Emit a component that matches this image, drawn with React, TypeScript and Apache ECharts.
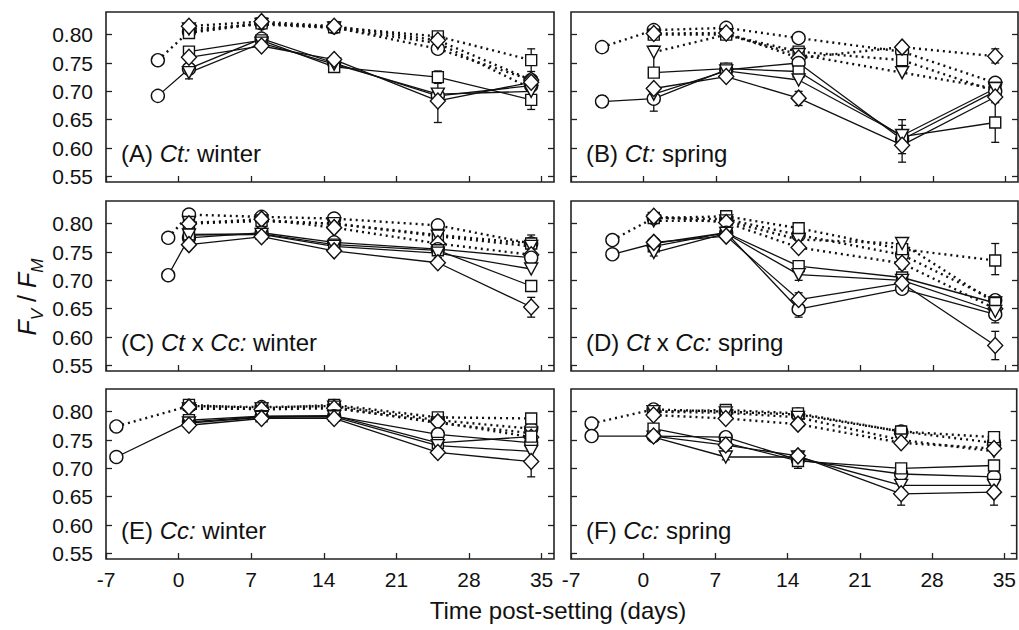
import React, { useEffect, useRef } from "react";
import * as echarts from "echarts";

// ---------- data ----------
const DAYS = [1, 8, 15, 25, 34];
const X_TICKS = [-7, 0, 7, 14, 21, 28, 35];
const Y_TICKS = [0.55, 0.6, 0.65, 0.7, 0.75, 0.8];
const MARKERS = ["circle", "rect", "triangle", "diamond"]; // circle, square, down-triangle, diamond
const X_TITLE = "Time post-setting (days)";

// pre-setting point: [day, solid value, dotted value]
const A_PRE = [-2, 0.692, 0.755];
const A_SOLID = [
  [0.74, 0.793, 0.75, 0.692, 0.71],
  [0.77, 0.79, 0.743, 0.725, 0.685],
  [0.733, 0.785, 0.748, 0.695, 0.7],
  [0.76, 0.78, 0.756, 0.683, 0.716],
];
const A_DOTTED = [
  [0.805, 0.82, 0.813, 0.775, 0.72],
  [0.803, 0.82, 0.813, 0.797, 0.755],
  [0.81, 0.818, 0.812, 0.785, 0.705],
  [0.815, 0.823, 0.815, 0.79, 0.72],
];
const A_ERR = [[1, 0.722, 0.745], [15, 0.74, 0.762], [25, 0.645, 0.715], [25, 0.714, 0.736], [34, 0.735, 0.775], [34, 0.668, 0.702]];

const B_PRE = [-4, 0.682, 0.778];
const B_SOLID = [
  [0.687, 0.738, 0.75, 0.615, 0.7],
  [0.733, 0.74, 0.735, 0.62, 0.645],
  [0.695, 0.736, 0.72, 0.622, 0.705],
  [0.705, 0.726, 0.688, 0.605, 0.69],
];
const B_DOTTED = [
  [0.808, 0.812, 0.794, 0.77, 0.715],
  [0.8, 0.8, 0.77, 0.755, 0.7],
  [0.769, 0.8, 0.765, 0.733, 0.705],
  [0.802, 0.803, 0.759, 0.778, 0.762],
];
const B_ERR = [[-4, 0.672, 0.692], [1, 0.665, 0.705], [1, 0.74, 0.78], [15, 0.675, 0.7], [25, 0.575, 0.64], [25, 0.59, 0.65], [34, 0.61, 0.68], [34, 0.75, 0.775]];

const C_PRE = [-1, 0.709, 0.775];
const C_SOLID = [
  [0.775, 0.784, 0.767, 0.755, 0.74],
  [0.781, 0.782, 0.763, 0.753, 0.69],
  [0.78, 0.781, 0.76, 0.748, 0.72],
  [0.763, 0.777, 0.752, 0.731, 0.653],
];
const C_DOTTED = [
  [0.816, 0.812, 0.809, 0.797, 0.765],
  [0.8, 0.805, 0.8, 0.78, 0.765],
  [0.802, 0.805, 0.8, 0.778, 0.76],
  [0.8, 0.808, 0.793, 0.765, 0.745],
];
const C_ERR = [[25, 0.725, 0.74], [34, 0.635, 0.67], [34, 0.755, 0.78]];

const D_PRE = [-3, 0.746, 0.771];
const D_SOLID = [
  [0.765, 0.784, 0.649, 0.685, 0.64],
  [0.76, 0.784, 0.725, 0.705, 0.66],
  [0.749, 0.783, 0.71, 0.7, 0.645],
  [0.767, 0.778, 0.666, 0.695, 0.585],
];
const D_DOTTED = [
  [0.81, 0.808, 0.78, 0.745, 0.665],
  [0.81, 0.813, 0.792, 0.755, 0.735],
  [0.805, 0.805, 0.772, 0.765, 0.66],
  [0.813, 0.802, 0.758, 0.73, 0.65],
];
const D_ERR = [[1, 0.743, 0.758], [15, 0.635, 0.678], [15, 0.7, 0.72], [25, 0.68, 0.72], [34, 0.56, 0.61], [34, 0.71, 0.765], [34, 0.625, 0.66]];

const E_PRE = [-6, 0.72, 0.774];
const E_SOLID = [
  [0.782, 0.791, 0.792, 0.76, 0.745],
  [0.785, 0.792, 0.793, 0.745, 0.756],
  [0.78, 0.79, 0.791, 0.74, 0.73],
  [0.776, 0.788, 0.788, 0.728, 0.712],
];
const E_DOTTED = [
  [0.81, 0.808, 0.81, 0.785, 0.77],
  [0.812, 0.806, 0.812, 0.79, 0.788],
  [0.805, 0.805, 0.808, 0.78, 0.762],
  [0.808, 0.804, 0.806, 0.782, 0.755],
];
const E_ERR = [[1, 0.77, 0.79], [25, 0.72, 0.74], [34, 0.685, 0.74]];

const F_PRE = [-5, 0.757, 0.779];
const F_SOLID = [
  [0.757, 0.755, 0.715, 0.69, 0.685],
  [0.77, 0.745, 0.713, 0.7, 0.705],
  [0.755, 0.72, 0.72, 0.67, 0.67],
  [0.757, 0.741, 0.722, 0.655, 0.658],
];
const F_DOTTED = [
  [0.804, 0.8, 0.795, 0.765, 0.745],
  [0.8, 0.803, 0.797, 0.765, 0.755],
  [0.8, 0.798, 0.79, 0.75, 0.73],
  [0.794, 0.788, 0.778, 0.745, 0.735],
];
const F_ERR = [[8, 0.715, 0.73], [15, 0.7, 0.73], [25, 0.635, 0.675], [25, 0.745, 0.77], [34, 0.635, 0.68]];

// panel label pieces: [text, italic?]
const LABELS: [string, boolean][][] = [
  [["(A) ", false], ["Ct:", true], [" winter", false]],
  [["(B) ", false], ["Ct:", true], [" spring", false]],
  [["(C) ", false], ["Ct", true], [" x ", false], ["Cc:", true], [" winter", false]],
  [["(D) ", false], ["Ct", true], [" x ", false], ["Cc:", true], [" spring", false]],
  [["(E) ", false], ["Cc:", true], [" winter", false]],
  [["(F) ", false], ["Cc:", true], [" spring", false]],
];

const PANELS = [
  { pre: A_PRE, solid: A_SOLID, dotted: A_DOTTED, err: A_ERR },
  { pre: B_PRE, solid: B_SOLID, dotted: B_DOTTED, err: B_ERR },
  { pre: C_PRE, solid: C_SOLID, dotted: C_DOTTED, err: C_ERR },
  { pre: D_PRE, solid: D_SOLID, dotted: D_DOTTED, err: D_ERR },
  { pre: E_PRE, solid: E_SOLID, dotted: E_DOTTED, err: E_ERR },
  { pre: F_PRE, solid: F_SOLID, dotted: F_DOTTED, err: F_ERR },
];

// ---------- layout ----------
const FONT = "Liberation Sans, Arial, sans-serif";
const COL_LEFT = [106, 571];
const COL_WIDTH = [448, 447];
const ROW_TOP = [12, 201, 389];
const ROW_H = 170;
const Y_MIN = 0.54;
const Y_MAX = 0.84;
const X_MIN = -7;
const X_MAX = 36.2;

const SYMBOL_SIZE: Record<string, number | number[]> = {
  circle: 13,
  rect: 11,
  triangle: [13, 12],
  diamond: [15, 16],
};

function buildOption() {
  const grid: any[] = [];
  const xAxis: any[] = [];
  const yAxis: any[] = [];
  const series: any[] = [];
  const graphic: any[] = [];

  PANELS.forEach((panel, p) => {
    const col = p % 2;
    const row = Math.floor(p / 2);
    grid.push({
      left: COL_LEFT[col],
      top: ROW_TOP[row],
      width: COL_WIDTH[col],
      height: ROW_H,
      show: true,
      borderColor: "#222",
      borderWidth: 1.6,
      backgroundColor: "transparent",
    });
    xAxis.push({
      gridIndex: p,
      type: "value",
      position: "bottom",
      min: X_MIN,
      max: X_MAX,
      axisLine: { show: false, onZero: false },
      splitLine: { show: false },
      axisTick: {
        show: true,
        inside: true,
        length: 6,
        customValues: X_TICKS,
        lineStyle: { color: "#222", width: 1.3 },
      },
      axisLabel: {
        show: row === 2,
        customValues: X_TICKS,
        color: "#111",
        fontSize: 21,
        fontFamily: FONT,
        margin: 10,
      },
    });
    const yBase = {
      gridIndex: p,
      type: "value",
      min: Y_MIN,
      max: Y_MAX,
      axisLine: { show: false, onZero: false },
      splitLine: { show: false },
      axisTick: {
        show: true,
        inside: true,
        length: 6,
        customValues: Y_TICKS,
        lineStyle: { color: "#222", width: 1.3 },
      },
    };
    yAxis.push({
      ...yBase,
      position: "left",
      axisLabel: {
        show: col === 0,
        customValues: Y_TICKS,
        formatter: (v: number) => v.toFixed(2),
        color: "#111",
        fontSize: 21,
        fontFamily: FONT,
        margin: 13,
      },
    });
    yAxis.push({ ...yBase, position: "right", axisLabel: { show: false } });

    // error bars
    series.push({
      type: "custom",
      xAxisIndex: p,
      yAxisIndex: p * 2,
      z: 1,
      data: panel.err,
      encode: { x: 0, y: [1, 2] },
      renderItem: (params: any, api: any) => {
        const x = api.value(0);
        const lo = api.coord([x, api.value(1)]);
        const hi = api.coord([x, api.value(2)]);
        const w = 4;
        const st = { stroke: "#111", lineWidth: 1.3 };
        return {
          type: "group",
          children: [
            { type: "line", shape: { x1: lo[0], y1: lo[1], x2: hi[0], y2: hi[1] }, style: st },
            { type: "line", shape: { x1: lo[0] - w, y1: lo[1], x2: lo[0] + w, y2: lo[1] }, style: st },
            { type: "line", shape: { x1: hi[0] - w, y1: hi[1], x2: hi[0] + w, y2: hi[1] }, style: st },
          ],
        };
      },
    });

    const addSeries = (vals: number[][], dotted: boolean) => {
      vals.forEach((v, k) => {
        const sym = MARKERS[k];
        const data: number[][] = DAYS.map((d, i) => [d, v[i]]);
        if (k === 0) data.unshift([panel.pre[0], dotted ? panel.pre[2] : panel.pre[1]]);
        series.push({
          type: "line",
          xAxisIndex: p,
          yAxisIndex: p * 2,
          z: dotted ? 2 : 3,
          data,
          symbol: sym,
          symbolSize: SYMBOL_SIZE[sym],
          symbolRotate: sym === "triangle" ? 180 : 0,
          showSymbol: true,
          lineStyle: dotted
            ? { color: "#111", width: 2.4, type: [2, 4] }
            : { color: "#111", width: 1.3, type: "solid" },
          itemStyle: { color: "#fff", borderColor: "#111", borderWidth: 1.4 },
          emphasis: { disabled: true },
        });
      });
    };
    addSeries(panel.dotted, true);
    addSeries(panel.solid, false);

    // panel label
    const rich: any = {
      n: { fontSize: 24, fontFamily: FONT, fill: "#111" },
      i: { fontSize: 24, fontFamily: FONT, fontStyle: "italic", fill: "#111" },
    };
    graphic.push({
      type: "text",
      x: COL_LEFT[col] + 15,
      y: ROW_TOP[row] + 141,
      z: 10,
      style: {
        text: LABELS[p].map(([t, it]) => `{${it ? "i" : "n"}|${t}}`).join(""),
        rich,
        verticalAlign: "middle",
        textAlign: "left",
      },
    });
  });

  // y-axis title F_V / F_M
  graphic.push({
    type: "text",
    x: 28,
    y: 297,
    rotation: Math.PI / 2,
    z: 10,
    style: {
      text: "{f|F}{s|V}{n| / }{f|F}{s|M}",
      textAlign: "center",
      verticalAlign: "middle",
      rich: {
        f: { fontSize: 25, fontFamily: FONT, fontStyle: "italic", fill: "#111", lineHeight: 27, verticalAlign: "top" },
        s: { fontSize: 17, fontFamily: FONT, fontStyle: "italic", fill: "#111", lineHeight: 17, padding: [14, 0, 0, 0], verticalAlign: "top" },
        n: { fontSize: 25, fontFamily: FONT, fill: "#111", lineHeight: 27, verticalAlign: "top" },
      },
    },
  });
  // x-axis title
  graphic.push({
    type: "text",
    x: 558,
    y: 610,
    z: 10,
    style: {
      text: X_TITLE,
      fontSize: 24,
      fontFamily: FONT,
      fill: "#111",
      textAlign: "center",
      verticalAlign: "middle",
    },
  });

  return {
    animation: false,
    backgroundColor: "#fff",
    grid,
    xAxis,
    yAxis,
    series,
    graphic,
  };
}

export default function App() {
  const ref = useRef<HTMLDivElement>(null);
  useEffect(() => {
    if (!ref.current) return;
    const chart = echarts.init(ref.current, null, { renderer: "svg" });
    chart.setOption(buildOption() as any);
    return () => chart.dispose();
  }, []);
  return (
    <div
      ref={ref}
      style={{ position: "fixed", left: 0, top: 0, width: 1019, height: 630, background: "#fff" }}
    />
  );
}
